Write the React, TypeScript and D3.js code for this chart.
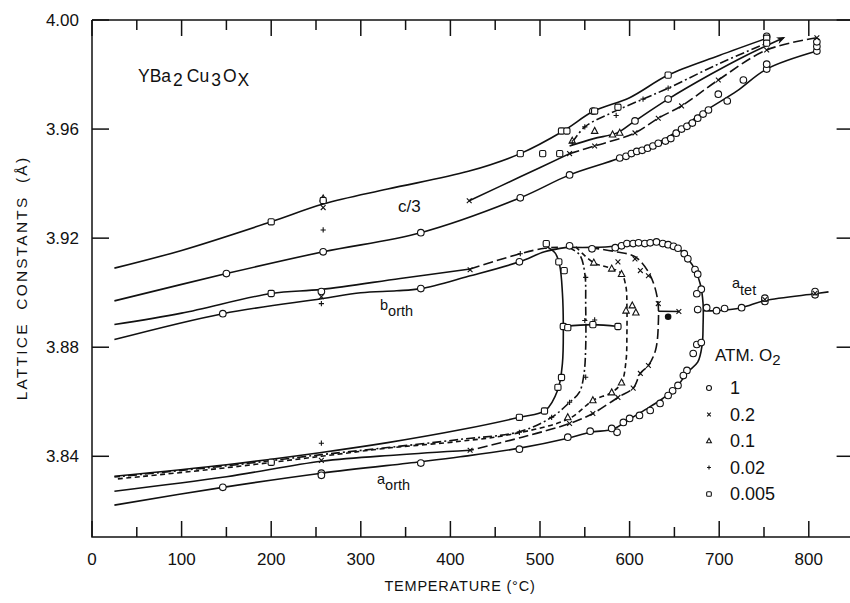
import * as d3 from 'd3';

type Pt = [number, number];

// axis ticks
const xTickVals = [0, 100, 200, 300, 400, 500, 600, 700, 800];
const yTickVals = [3.84, 3.88, 3.92, 3.96, 4.0];
const legendLabels = ['1', '0.2', '0.1', '0.02', '0.005'];
const legendShapes = ['circle', 'cross', 'tri', 'plus', 'square'];

// ---- curves: [temperature °C, lattice constant Å] ----
// c/3 branch
const c3O005: Pt[] = [[25, 3.909], [100, 3.9155], [200, 3.926], [258, 3.9325], [330, 3.938], [420, 3.9445], [478, 3.951], [526, 3.9593], [560, 3.9666], [600, 3.9715], [643, 3.9798], [700, 3.987], [753, 3.9933]];
const c3O1: Pt[] = [[25, 3.897], [150, 3.907], [258, 3.915], [367, 3.922], [478, 3.9348], [533, 3.9432], [589, 3.9494], [640, 3.9565], [686, 3.967], [720, 3.974], [753, 3.982], [809, 3.9886]];
const c3O02Solid: Pt[] = [[421, 3.9337], [478, 3.9425], [533, 3.951]];
const c3O02Dash: Pt[] = [[533, 3.951], [561, 3.9538], [606, 3.9586], [632, 3.964], [658, 3.9685], [699, 3.978], [753, 3.989], [809, 3.9935]];
const c3O01: Pt[] = [[533, 3.9538], [560, 3.9565], [586, 3.9586], [606, 3.963], [643, 3.971], [690, 3.98], [730, 3.987], [772, 3.9935]];
const c3O002: Pt[] = [[536, 3.955], [550, 3.9608], [580, 3.966], [615, 3.971], [643, 3.975], [700, 3.984], [753, 3.9915]];

// b_orth branch
const bUpperSolid: Pt[] = [[25, 3.8883], [100, 3.8925], [200, 3.8997], [256, 3.9012], [344, 3.9052], [422, 3.9087]];
const bUpperDash: Pt[] = [[422, 3.9087], [478, 3.9143], [505, 3.9163], [520, 3.9166]];
const bLower: Pt[] = [[25, 3.8828], [146, 3.8923], [256, 3.8978], [300, 3.9], [340, 3.9007], [367, 3.9015], [420, 3.906], [477, 3.9113], [505, 3.915], [530, 3.9166]];

// orthorhombic -> tetragonal loops (b top, a bottom)
const loopO005: Pt[] = [[508, 3.9168], [517, 3.9145], [522, 3.91], [525, 3.9], [526, 3.888], [525, 3.874], [520, 3.8645], [506, 3.8568], [477, 3.8543], [411, 3.8497], [330, 3.845], [256, 3.8414], [150, 3.8369], [25, 3.8327]];
const loopO002: Pt[] = [[530, 3.9168], [544, 3.914], [550, 3.907], [551, 3.895], [551, 3.88], [549, 3.87], [544, 3.8635], [533, 3.8598], [513, 3.8543], [477, 3.849], [411, 3.8462], [330, 3.8432], [256, 3.8406], [150, 3.8365], [25, 3.8324]];
const loopO01: Pt[] = [[540, 3.9168], [560, 3.911], [581, 3.9088], [591, 3.907], [596, 3.902], [597, 3.895], [597, 3.885], [596, 3.875], [591, 3.867], [580, 3.8634], [559, 3.8605], [533, 3.8539], [467, 3.848], [411, 3.8455], [330, 3.843], [256, 3.84], [150, 3.8358], [25, 3.8316]];
const loopO02Dash: Pt[] = [[555, 3.9166], [585, 3.915], [606, 3.9132], [622, 3.907], [631, 3.898], [632, 3.888], [629, 3.879], [621, 3.8733], [612, 3.8704], [604, 3.865], [587, 3.8616], [559, 3.8557], [533, 3.852], [480, 3.847], [422, 3.8422]];
const loopO02Solid: Pt[] = [[422, 3.8422], [340, 3.8405], [256, 3.8382], [150, 3.8325], [25, 3.8272]];
const loopO1: Pt[] = [[533, 3.9166], [558, 3.9166], [584, 3.917], [610, 3.9182], [632, 3.9183], [654, 3.9163], [665, 3.9124], [673, 3.9085], [679, 3.903], [682, 3.896], [682, 3.888], [681, 3.881], [676, 3.8745], [664, 3.8707], [653, 3.8655], [637, 3.8612], [617, 3.857], [597, 3.853], [582, 3.85], [556, 3.8488], [531, 3.8466], [476, 3.8429], [411, 3.8398], [367, 3.838], [256, 3.8338], [146, 3.8286], [25, 3.8221]];
const aTet: Pt[] = [[682, 3.8934], [697, 3.8934], [725, 3.8945], [751, 3.8971], [807, 3.8996], [822, 3.9003]];
const tieO005: Pt[] = [[526, 3.8876], [559, 3.8883], [587, 3.8876]];
const tieO02: Pt[] = [[632, 3.8932], [655, 3.8931]];

// ---- measured points per O2 partial pressure ----
const ptsO1: Pt[] = [
  [150, 3.907], [258, 3.915], [367, 3.922], [478, 3.9348], [533, 3.9432], [589, 3.9494], [596, 3.95], [602, 3.951], [608, 3.9518],
  [614, 3.9522], [620, 3.953], [626, 3.9538], [632, 3.9548], [640, 3.9556], [646, 3.9565], [652, 3.9585], [658, 3.96], [664, 3.961],
  [670, 3.9622], [676, 3.964], [682, 3.9655], [688, 3.967], [699, 3.9728], [709, 3.9703], [727, 3.978], [753, 3.982], [753, 3.9838],
  [809, 3.9886], [809, 3.9903], [809, 3.992], [559, 3.9666], [606, 3.963], [643, 3.971], [753, 3.994],
  [146, 3.8923], [256, 3.9004], [367, 3.9015], [477, 3.9113], [533, 3.9172], [558, 3.9161], [584, 3.9165], [591, 3.9172], [597, 3.918],
  [604, 3.918], [610, 3.9183], [617, 3.918], [623, 3.9183], [630, 3.9186], [637, 3.918], [643, 3.9176], [649, 3.917], [654, 3.9163],
  [661, 3.9143], [665, 3.9124], [673, 3.9085], [676, 3.9068], [680, 3.9013], [675, 3.8996], [676, 3.8938], [686, 3.8945], [675, 3.881],
  [680, 3.8817], [671, 3.8777], [664, 3.8715], [660, 3.8696], [654, 3.866], [648, 3.864], [643, 3.8623], [634, 3.8594], [623, 3.8568],
  [611, 3.855], [600, 3.8539], [593, 3.8524], [586, 3.8488], [580, 3.8502], [556, 3.8492], [531, 3.847], [477, 3.8426], [367, 3.8375],
  [256, 3.8338], [256, 3.833], [146, 3.8286],
  [697, 3.8934], [706, 3.8942], [725, 3.8945], [751, 3.8968], [751, 3.898], [807, 3.8992], [807, 3.9004],
];
const ptsO02: Pt[] = [
  [258, 3.9312], [421, 3.9337], [533, 3.951], [561, 3.9538], [606, 3.9586], [632, 3.964], [658, 3.9685], [699, 3.978], [753, 3.989], [809, 3.9935],
  [256, 3.8985], [422, 3.9084], [587, 3.9113], [606, 3.9124], [612, 3.9081], [621, 3.9062], [632, 3.896], [655, 3.8931],
  [621, 3.8733], [612, 3.8704], [604, 3.865], [587, 3.8616], [559, 3.8557], [533, 3.852], [422, 3.8422], [256, 3.8385],
  [751, 3.8975], [807, 3.8998],
];
const ptsO01: Pt[] = [
  [258, 3.9345], [536, 3.9557], [561, 3.9593], [581, 3.958], [589, 3.9586],
  [560, 3.911], [580, 3.9088], [591, 3.9068], [603, 3.8953], [596, 3.8934], [607, 3.8927],
  [591, 3.867], [580, 3.8634], [559, 3.8605], [531, 3.8543],
];
const ptsO002: Pt[] = [
  [258, 3.923], [536, 3.955], [550, 3.9608], [585, 3.965], [615, 3.971], [643, 3.975], [753, 3.9915],
  [256, 3.896], [478, 3.9143], [508, 3.9183], [551, 3.9056], [550, 3.8898], [561, 3.89],
  [551, 3.869], [533, 3.8598], [513, 3.8543], [477, 3.8488], [256, 3.8448],
];
const ptsO005: Pt[] = [
  [200, 3.926], [258, 3.9338], [478, 3.951], [503, 3.951], [522, 3.951], [524, 3.9593], [530, 3.9593], [561, 3.9666], [587, 3.968],
  [643, 3.9798], [753, 3.9933], [753, 3.9915],
  [200, 3.8997], [507, 3.918], [521, 3.9113], [527, 3.9081], [526, 3.8876], [531, 3.8872], [559, 3.8883], [587, 3.8876],
  [524, 3.8689], [520, 3.8653], [505, 3.8566], [477, 3.8543], [200, 3.8378],
];
const ptsFilled: Pt[] = [[643, 3.8912]];

const x = d3.scaleLinear().domain([0, 850]).range([92, 853.6]);
const y = d3.scaleLinear().domain([3.8104, 4.0]).range([537, 20]);
const lineGen = d3.line<Pt>().x(d => x(d[0])).y(d => y(d[1])).curve(d3.curveCatmullRom.alpha(0.5));

const LONG = '10,4';
const SHORT = '5,3.5';
const DASHDOT = '9,3,2,3';

const curves: { pts: Pt[]; dash?: string; arrow?: boolean }[] = [
  { pts: c3O005 }, { pts: c3O1 }, { pts: c3O02Solid }, { pts: c3O02Dash, dash: LONG },
  { pts: c3O01, arrow: true }, { pts: c3O002, dash: DASHDOT },
  { pts: bUpperSolid }, { pts: bUpperDash, dash: LONG }, { pts: bLower },
  { pts: loopO005 }, { pts: loopO002, dash: DASHDOT }, { pts: loopO01, dash: SHORT },
  { pts: loopO02Dash, dash: LONG }, { pts: loopO02Solid }, { pts: loopO1 },
  { pts: aTet }, { pts: tieO005 }, { pts: tieO02 },
];

const FONT = '"Liberation Sans", Arial, sans-serif';

function Symbol({ shape, cx, cy, s = 1 }: { shape: string; cx: number; cy: number; s?: number }) {
  const st = { stroke: '#111', strokeWidth: 1.1, fill: '#fff' };
  if (shape === 'circle') return <circle cx={cx} cy={cy} r={3.3 * s} {...st} />;
  if (shape === 'square') return <rect x={cx - 3.1 * s} y={cy - 3.1 * s} width={6.2 * s} height={6.2 * s} rx={1.5 * s} {...st} />;
  if (shape === 'tri') return <path d={`M${cx},${cy - 3.6 * s}L${cx + 3.2 * s},${cy + 2.4 * s}L${cx - 3.2 * s},${cy + 2.4 * s}Z`} {...st} />;
  if (shape === 'cross') {
    const r = 2.4 * s;
    return <path d={`M${cx - r},${cy - r}L${cx + r},${cy + r}M${cx - r},${cy + r}L${cx + r},${cy - r}`} stroke="#111" strokeWidth={1.1} />;
  }
  if (shape === 'plus') {
    const r = 2.6 * s;
    return <path d={`M${cx - r},${cy}L${cx + r},${cy}M${cx},${cy - r}L${cx},${cy + r}`} stroke="#111" strokeWidth={1.1} />;
  }
  return null;
}

export default function App() {
  const minor = d3.range(0, 851, 50);
  const series: [Pt[], string][] = [[ptsO1, 'circle'], [ptsO02, 'cross'], [ptsO01, 'tri'], [ptsO002, 'plus'], [ptsO005, 'square']];
  return (
    <svg width={850} height={603} style={{ position: 'absolute', left: 0, top: 0, background: '#fff' }} fontFamily={FONT}>
      <defs>
        <marker id="arr" viewBox="0 0 10 10" refX="8" refY="5" markerWidth="9" markerHeight="9" orient="auto" markerUnits="userSpaceOnUse">
          <path d="M0,1L10,5L0,9L3,5Z" fill="#111" />
        </marker>
      </defs>
      <rect width={850} height={603} fill="#fff" />
      {/* frame */}
      <g stroke="#111" strokeWidth={1.5} fill="none">
        <path d={`M${x(0)},${y(4.0)}H${x(850)}M${x(0)},${y(4.0)}V537H${x(850)}`} />
        {minor.map(t => {
          const len = t % 100 === 0 ? 16 : 10;
          return (
            <g key={t}>
              <line x1={x(t)} x2={x(t)} y1={20} y2={20 + len} />
              <line x1={x(t)} x2={x(t)} y1={537} y2={537 - len} />
            </g>
          );
        })}
        {yTickVals.map(v => (
          <g key={v}>
            <line x1={x(0)} x2={x(0) + 17} y1={y(v)} y2={y(v)} />
            <line x1={x(850)} x2={x(850) - 17} y1={y(v)} y2={y(v)} />
          </g>
        ))}
      </g>
      {/* tick labels */}
      <g fontSize={17} fill="#111">
        {yTickVals.map(v => (
          <text key={v} x={79} y={y(v)} dy="0.36em" textAnchor="end">{v.toFixed(2)}</text>
        ))}
        {xTickVals.map(t => (
          <text key={t} x={x(t)} y={565} textAnchor="middle">{t}</text>
        ))}
      </g>
      <text x={460} y={591} fontSize={14.5} letterSpacing={0.8} textAnchor="middle" fill="#111">TEMPERATURE (°C)</text>
      <text transform="translate(27,278) rotate(-90)" fontSize={15.5} letterSpacing={2.2} wordSpacing={6} textAnchor="middle" fill="#111">LATTICE CONSTANTS (Å)</text>

      {/* curves */}
      <g fill="none" stroke="#111" strokeWidth={1.6} strokeLinejoin="round">
        {curves.map((c, i) => (
          <path key={i} d={lineGen(c.pts) ?? ''} strokeDasharray={c.dash} markerEnd={c.arrow ? 'url(#arr)' : undefined} />
        ))}
      </g>
      {/* data points */}
      <g>
        {series.map(([pts, shape]) => pts.map((p, i) => <Symbol key={shape + i} shape={shape} cx={x(p[0])} cy={y(p[1])} />))}
        {ptsFilled.map((p, i) => <circle key={i} cx={x(p[0])} cy={y(p[1])} r={3.3} fill="#111" />)}
      </g>

      {/* labels */}
      <g fill="#111">
        <text x={138} y={82} fontSize={17.5}>
          YBa<tspan dx={2} dy={4}>2</tspan><tspan dx={4} dy={-4}>Cu</tspan><tspan dx={2} dy={4}>3</tspan><tspan dx={2} dy={-4}>O</tspan><tspan dx={1} dy={4}>X</tspan>
        </text>
        <text x={398} y={212} fontSize={17}>c/3</text>
        <text x={380} y={310} fontSize={14.5}>b<tspan dy={6}>orth</tspan></text>
        <text x={377} y={484} fontSize={14.5}>a<tspan dy={6}>orth</tspan></text>
        <text x={732} y={288} fontSize={14.5}>a<tspan dy={7}>tet</tspan></text>
        <text x={715} y={361} fontSize={17}>ATM.  O<tspan dy={4} fontSize={15}>2</tspan></text>
        {legendLabels.map((l, i) => (
          <g key={l}>
            <Symbol shape={legendShapes[i]} cx={709} cy={388 + i * 26.5} s={0.75} />
            <text x={730} y={394 + i * 26.5} fontSize={18}>{l}</text>
          </g>
        ))}
      </g>
    </svg>
  );
}
